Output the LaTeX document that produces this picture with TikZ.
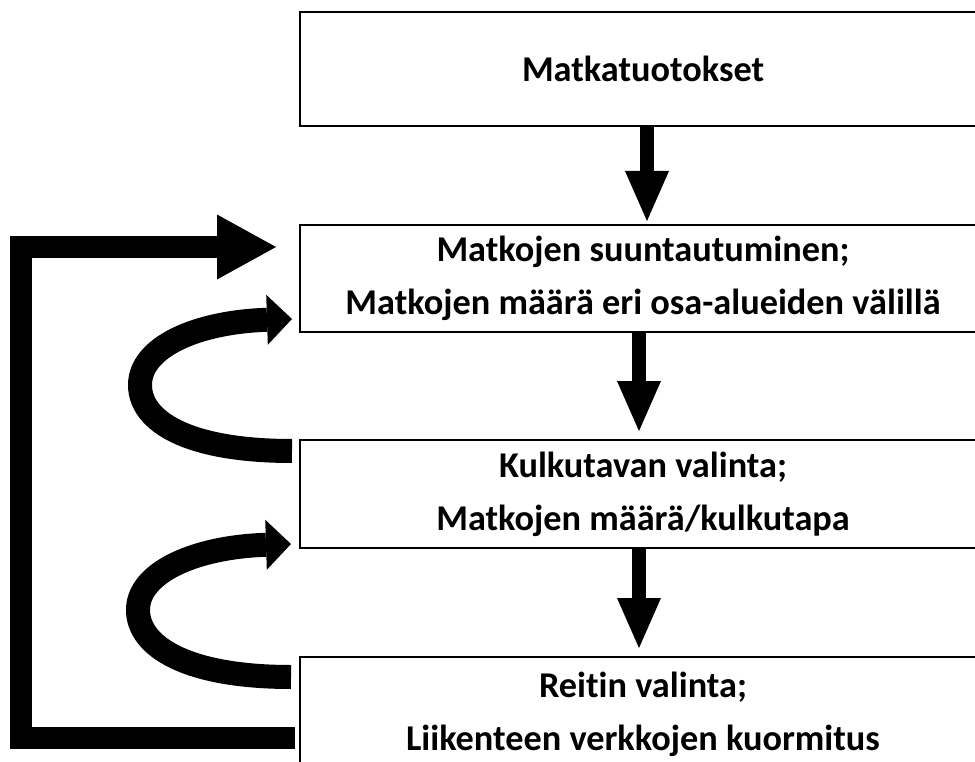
\documentclass[tikz,border=0pt]{standalone}
\usepackage{fontspec}
\setmainfont[Ligatures={NoCommon,NoDiscretionary}]{Carlito}
\usetikzlibrary{arrows.meta,calc}

\tikzset{
  stagebox/.style={draw=black, line width=2pt, fill=white, inner sep=0pt,
    minimum width=686pt, align=center,
    font=\bfseries\fontsize{36.3}{53}\selectfont},
  downarrow/.style={line width=14pt,
    -{Triangle[length=50pt,width=44pt,line width=0pt]}},
  feedback/.style={line width=24pt, line cap=butt,
    -{Triangle[length=25pt,width=50pt,line width=0pt]}},
  bigloop/.style={line width=22pt, line join=miter,
    -{Triangle[length=59pt,width=65pt,line width=0pt]}}
}

\begin{document}
\begin{tikzpicture}[x=1pt,y=-1pt]
\useasboundingbox (0,0) rectangle (975,762);
\clip (0,0) rectangle (975,762);

% model stages
\node[stagebox, minimum height=114pt] (b1) at (643,69) {Matkatuotokset};
\node[stagebox, minimum height=107pt] (b2) at (643,278.5)
  {Matkojen suuntautuminen;\\Matkojen määrä eri osa-alueiden välillä};
\node[stagebox, minimum height=108pt] (b3) at (643,494)
  {Kulkutavan valinta;\\Matkojen määrä/kulkutapa};
\node[stagebox, minimum height=114pt] (b4) at (643,714)
  {Reitin valinta;\\Liikenteen verkkojen kuormitus};

% forward flow
\draw[downarrow] ($(b1.south)+(4,0)$) -- ($(b2.north)+(4,-3)$);
\draw[downarrow] ($(b2.south)+(-4,0)$) -- ($(b3.north)+(-4,-8)$);
\draw[downarrow] ($(b3.south)+(-4,0)$) -- ($(b4.north)+(-4,-8)$);

% feedback loops between neighbouring stages
\coordinate (l1) at (140,385);
\draw[feedback] ($(b3.north west)+(-7,12)$)
  .. controls +(-105,0) and +(0,36) .. (l1)
  .. controls +(0,-38) and +(-95,3) .. ($(b2.south west)+(-7,-14)$);
\coordinate (l2) at (138,610);
\draw[feedback] ($(b4.north west)+(-8,21)$)
  .. controls +(-105,0) and +(0,36) .. (l2)
  .. controls +(0,-38) and +(-95,3) .. ($(b3.south west)+(-8,-5)$);

% overall feedback from route choice back to distribution
\coordinate (rail) at (21,0);
\coordinate (e2) at ($(b2.west)+(-23,-31.5)$);
\draw[bigloop] ($(b4.west)+(-4,24)$) -| (rail |- e2) -- (e2);
\end{tikzpicture}
\end{document}
